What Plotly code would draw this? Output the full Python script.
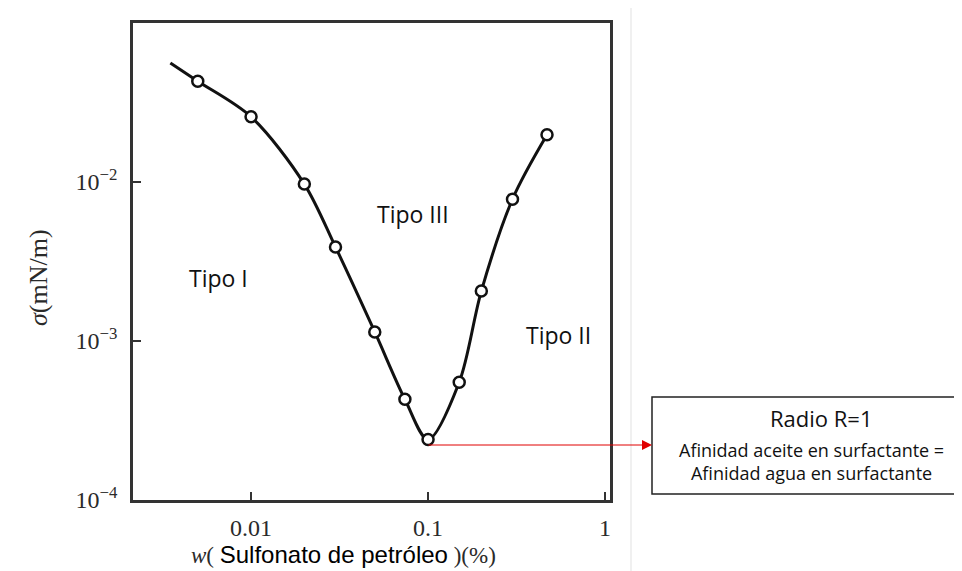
import math
import plotly.graph_objects as go

# ---- data ----
conc = [0.005, 0.01, 0.02, 0.03, 0.05, 0.074, 0.1, 0.15, 0.2, 0.3, 0.47]
tension = [0.043, 0.0257, 0.0097, 0.0039, 0.00114, 0.00043, 0.00024, 0.00055, 0.00206, 0.0078, 0.0198]
curve_start_x = [0.0035]
curve_start_y = [0.056]

x_tickvals = [0.01, 0.1, 1]
x_ticktext = ["0.01", "0.1", "1"]
y_tickvals = [1e-4, 1e-3, 1e-2, 1e-1]
y_ticktext = ["10<sup>−4</sup>", "10<sup>−3</sup>", "10<sup>−2</sup>", "10<sup>−1</sup>"]

region_labels = ["Tipo I", "Tipo III", "Tipo II"]
box_title = "Radio R=1"
box_lines = ["Afinidad aceite en surfactante =", "Afinidad agua en surfactante"]

# ---- layout geometry (pixels) ----
W, H = 962, 571
L, R, T, B = 125, 602, 15, 492
PW, PH = R - L, B - T


def px(xp):
    return (xp - L) / PW


def py(yp):
    return (B - yp) / PH


fig = go.Figure()

fig.add_trace(go.Scatter(
    x=curve_start_x + conc, y=curve_start_y + tension,
    mode="lines", line=dict(color="#111111", width=3, shape="spline", smoothing=0.9),
    hoverinfo="skip"))

fig.add_trace(go.Scatter(
    x=conc, y=tension, mode="markers",
    marker=dict(symbol="circle", size=11, color="white",
                line=dict(color="#111111", width=2.5))))

serif = "Liberation Serif"
sans = "Open Sans"

fig.update_layout(
    width=W, height=H,
    margin=dict(l=L, r=W - R, t=T, b=H - B),
    paper_bgcolor="white", plot_bgcolor="white",
    showlegend=False,
    xaxis=dict(type="log", range=[-2.667, 0.028],
               tickvals=x_tickvals, ticktext=x_ticktext,
               ticks="inside", ticklen=8, tickwidth=2, tickcolor="#333",
               showline=True, linecolor="#333", linewidth=2.5, mirror=True,
               showgrid=False, zeroline=False,
               tickfont=dict(family=serif, size=24, color="#2a2a2a"),
               ticklabelstandoff=4),
    yaxis=dict(type="log", range=[-4, -1],
               tickvals=y_tickvals, ticktext=y_ticktext,
               ticks="inside", ticklen=8, tickwidth=2, tickcolor="#333",
               showline=True, linecolor="#333", linewidth=2.5, mirror=True,
               showgrid=False, zeroline=False,
               tickfont=dict(family=serif, size=24, color="#2a2a2a"),
               ticklabelstandoff=8),
)

ann = []
# axis titles
ann.append(dict(xref="paper", yref="paper", x=px(30), y=py(270), text="<i>σ</i>(mN/m)",
                textangle=-90, showarrow=False, xanchor="center", yanchor="middle",
                font=dict(family=serif, size=26, color="#2a2a2a")))
ann.append(dict(xref="paper", yref="paper", x=px(335), y=py(546),
                text=("<i>w</i>( <span style='font-family:Liberation Sans;color:#000;font-size:24px'>"
                      "Sulfonato de petróleo</span> )(%)"),
                showarrow=False, xanchor="center", yanchor="middle",
                font=dict(family=serif, size=23, color="#2a2a2a")))
# region labels
for txt, (xp, yp) in zip(region_labels, [(210, 270), (405, 206), (550, 327)]):
    ann.append(dict(xref="paper", yref="paper", x=px(xp), y=py(yp), text=txt,
                    showarrow=False, xanchor="center", yanchor="middle",
                    font=dict(family=sans, size=23, color="#111")))
# red arrow from the minimum to the box
ann.append(dict(xref="paper", yref="paper", x=px(644), y=py(437), text="",
                showarrow=True, ax=-(644 - 419), ay=0, axref="pixel", ayref="pixel",
                arrowhead=2, arrowsize=2, arrowwidth=1, arrowcolor="#e00000", standoff=0))
# box text
ann.append(dict(xref="paper", yref="paper", x=px(813), y=py(410), text=box_title,
                showarrow=False, xanchor="center", yanchor="middle",
                font=dict(family=sans, size=22, color="#111")))
ann.append(dict(xref="paper", yref="paper", x=px(803), y=py(453), text="<br>".join(box_lines),
                showarrow=False, xanchor="center", yanchor="middle", align="center",
                font=dict(family=sans, size=18, color="#111")))
fig.update_layout(annotations=ann)

fig.add_shape(type="rect", xref="paper", yref="paper",
              x0=px(644), x1=px(964), y0=py(486), y1=py(389),
              line=dict(color="#222", width=1.5), fillcolor="rgba(0,0,0,0)")
fig.add_shape(type="line", xref="paper", yref="paper",
              x0=px(623), x1=px(623), y0=py(571), y1=py(0),
              line=dict(color="#f0f0f0", width=2), layer="below")

fig.write_html("out.html")
